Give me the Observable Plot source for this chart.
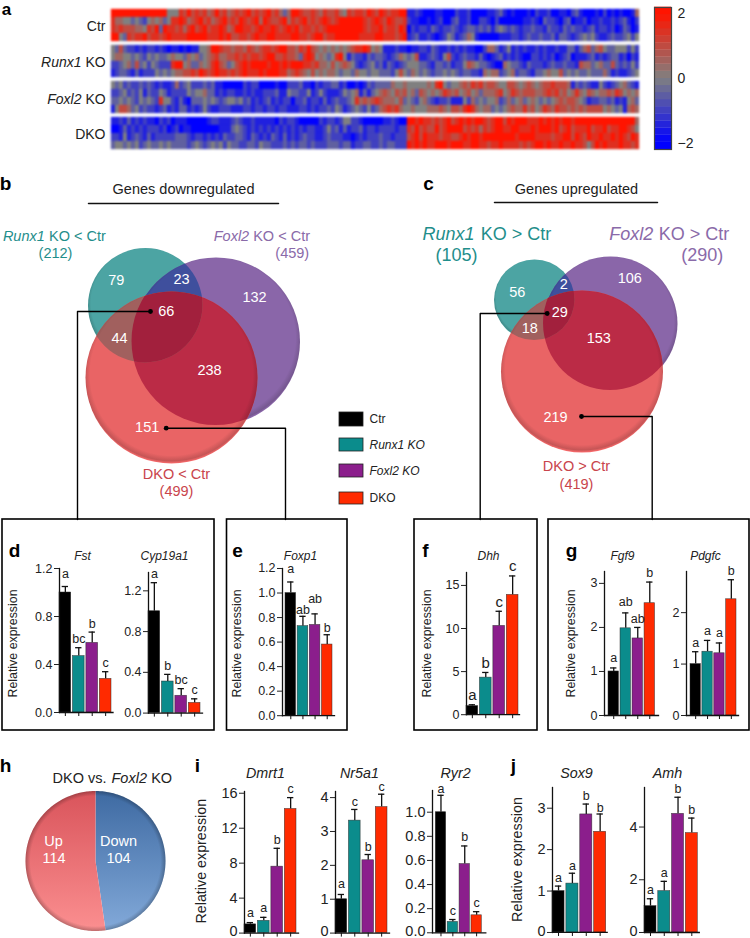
<!DOCTYPE html>
<html>
<head>
<meta charset="utf-8">
<script src="https://cdn.jsdelivr.net/npm/d3@7"></script>
<script src="https://cdn.jsdelivr.net/npm/@observablehq/plot@0.6"></script>
<style>
html,body{margin:0;padding:0;background:#fff;}
#fig{position:relative;width:750px;height:938px;overflow:hidden;background:#fff;font-family:"Liberation Sans",Arial,sans-serif;}
</style>
</head>
<body>
<div id="fig"></div>
<script>
// ---------- DATA ----------
const genotypes = ["Ctr", "Runx1 KO", "Foxl2 KO", "DKO"];
const genotypeColors = ["#000000", "#0b8c8c", "#8b1e8c", "#ff2a00"];

// heat map read by eye: one code per gene, 0 = -2 ... 4 = 0 ... 8 = +2
const heatCtr = [
 "88888888888 88844476867 67568675676 78676786753 58876676576 67547677687 68767788112 10001100021 12000011231 01000102112 00110231000 10201010015",
 "75544343245 45347787567 86756786768 76785876678 57678676787 67888888767 87687667211 00101200231 12002210200 00001121032 21023011201 12112123102",
 "76766655476 83877675786 78677875688 77678778767 87867767678 88888888767 78677687021 22132122321 23323231343 23212232213 22132322123 12212013201",
 "88437677867 76787777888 88777878667 76787788777 78877678867 78888887777 88777678123 11210124312 35410000011 12212322322 31332123434 21123223424"];
const heatRunx = [
 "43632212122 12101101011 44588766566 57656776788 66576865454 54545677874 54111211011 22132112121 21100255312 41212112121 12113313563 56433444242",
 "45544343243 43345443545 34567556676 76776788667 66537874543 47841322132 33212354346 11232146212 32213101231 21210022121 20123011123 12123312021",
 "22345363424 32227884533 54578653467 87888878878 78887767554 64565421234 23132123444 33213323122 46543321005 43321322212 32232216553 45336323242",
 "12332131222 43434556676 87678776767 87778788877 56765464545 54344354434 43332464354 34323343432 33221545523 45233213345 44634343343 33531211234"];
const heatFoxl = [
 "43423223232 12112523422 23231100000 21220000100 22231102122 33120010132 33335445444 44547843445 65767566544 66545654566 76665132321 14212345321",
 "22342324132 24312222434 45331212211 21211222311 43322412421 11243451313 45654656453 65454576564 56453555674 57656665567 67564575465 45565764545",
 "33434324343 27442131033 34343234434 23121231212 20223122131 23223475656 76555463432 45321223111 42534344523 53453454343 45656654312 23323121453",
 "14665342322 12312133121 24211222111 22122122122 11122121223 24312343242 35676754454 44555654665 78754553434 56557564576 57665656566 66454341565"];
const heatDko = [
 "11213121211 02120111000 00122111232 11211111021 22100000212 21244221000 00112100887 87767678678 78788767886 87888777878 78788788888 88888888885",
 "00131212122 21201201100 00000111343 21212121212 12121221124 23131223122 12222122768 67668678888 67675767887 78877787888 78678677786 77867788764",
 "22141232131 22222333212 21212132233 21321213213 12123221123 22211012122 23221222678 68777677667 87887888888 88788887777 67788687687 78778787687",
 "34434342343 34343333234 32343424332 23324332223 23233232223 33233122332 23233222878 78778887888 77887767787 77767678878 77877877646 87877787767"];
const heatGroups = ["Ctr", "Runx1 KO", "Foxl2 KO", "DKO"];
const heatTicks = [-2, 0, 2];

const fstValues = [1.0, 0.47, 0.58, 0.28],   fstErrs = [0.05, 0.07, 0.09, 0.06],  fstLetters = ["a","bc","b","c"];
const cypValues = [1.0, 0.31, 0.17, 0.10],   cypErrs = [0.28, 0.07, 0.07, 0.04],  cypLetters = ["a","b","bc","c"];
const foxp1Values = [1.0, 0.73, 0.74, 0.58], foxp1Errs = [0.09, 0.08, 0.09, 0.08], foxp1Letters = ["a","ab","ab","b"];
const dhhValues = [1.0, 4.3, 10.3, 13.9],    dhhErrs = [0.15, 0.6, 1.7, 2.2],     dhhLetters = ["a","b","c","c"];
const fgf9Values = [1.0, 1.98, 1.75, 2.55],  fgf9Errs = [0.08, 0.35, 0.25, 0.48], fgf9Letters = ["a","ab","ab","b"];
const pdgfcValues = [1.0, 1.24, 1.21, 2.26], pdgfcErrs = [0.24, 0.22, 0.2, 0.38], pdgfcLetters = ["a","a","a","b"];
const dmrt1Values = [1.0, 1.4, 7.6, 14.2],   dmrt1Errs = [0.2, 0.4, 2.1, 1.3],    dmrt1Letters = ["a","a","b","c"];
const nr5a1Values = [1.0, 3.32, 2.15, 3.72], nr5a1Errs = [0.14, 0.33, 0.17, 0.38], nr5a1Letters = ["a","c","b","c"];
const ryr2Values = [1.0, 0.09, 0.57, 0.145], ryr2Errs = [0.14, 0.02, 0.15, 0.03], ryr2Letters = ["a","c","b","c"];
const sox9Values = [1.0, 1.18, 2.85, 2.43],  sox9Errs = [0.12, 0.25, 0.25, 0.43], sox9Letters = ["a","a","b","b"];
const amhValues = [1.0, 1.57, 4.5, 3.77],    amhErrs = [0.28, 0.37, 0.63, 0.57],  amhLetters = ["a","a","b","b"];

const vennDownCounts = ["79","23","132","66","44","238","151"];
const vennUpCounts = ["56","2","106","29","18","153","219"];
const pieLabels = ["Down","Up"];
const pieCounts = [104,114];

// ---------- LAYOUT ----------
const FONT = '"Liberation Sans", Arial, sans-serif';
const fig = document.getElementById("fig");
function place(svg, left, top) {
  svg.style.position = "absolute"; svg.style.left = left + "px"; svg.style.top = top + "px";
  svg.style.maxWidth = "none"; svg.style.background = "transparent"; svg.style.overflow = "visible";
  fig.appendChild(svg); return svg;
}

// heat map
const heatData = [];
[heatCtr, heatRunx, heatFoxl, heatDko].forEach((rows, g) => rows.forEach((s, r) => {
  [...s.replace(/ /g, "")].forEach((ch, c) => heatData.push({group: heatGroups[g], row: r, col: c, value: (+ch - 4) / 2}));
}));
const heatColor = {type: "linear", domain: [-2, 0, 2], range: ["#0000ff", "#808080", "#ff1400"], clamp: true};
const heat = Plot.plot({
  width: 528, height: 142.5, margin: 0,
  x: {type: "band", axis: null, domain: d3.range(132), round: false, padding: 0},
  y: {type: "band", axis: null, domain: [0, 1, 2, 3], padding: 0},
  fy: {domain: heatGroups, axis: null, padding: 0.085},
  color: heatColor,
  marks: [Plot.cell(heatData, {x: "col", y: "row", fy: "group", fill: "value", inset: -0.15})]
});
place(heat, 111, 7); heat.style.filter = "blur(0.8px)";

// colour bar
const barLevels = d3.range(-2.2, 2.2, 0.22);
const cbar = Plot.plot({
  width: 50, height: 142, marginLeft: 0, marginRight: 33, marginTop: 0, marginBottom: 0,
  x: {axis: null, domain: [0, 1]},
  y: {domain: [-2.2, 2.2]},
  color: heatColor,
  marks: [
    Plot.rect(barLevels, {x1: 0, x2: 1, y1: d => d, y2: d => d + 0.23, fill: d => d + 0.11}),
    Plot.frame({stroke: "#444", strokeWidth: 1.2}),
    Plot.axisY({anchor: "right", ticks: heatTicks, tickSize: 0, tickPadding: 6, fontSize: 14, label: null, tickFormat: d3.format("d"), color: "#222"})
  ]
});
place(cbar, 654, 7); cbar.style.fontFamily = FONT;

// bar panels
function barPanel(p) {
  const ml = 42, mr = 3, mt = 24, mb = 8;
  const w = p.right - p.axisX + ml + mr, h = p.bottom - p.top + mt + mb;
  const rows = genotypes.map((g, i) => ({g, v: p.values[i], e: p.errs[i], l: p.letters[i], lift: (p.lift || [])[i] || 0}));
  const band = (p.barR - p.barL) / (4 + 3 * 0.13);
  const capInset = Math.max(0, (band - 6.5) / 2);
  const chart = Plot.plot({
    width: w, height: h, marginLeft: ml, marginRight: mr, marginTop: mt, marginBottom: mb,
    x: {type: "band", domain: genotypes, range: [ml + p.barL - p.axisX, ml + p.barR - p.axisX], paddingInner: 0.13, paddingOuter: 0, round: false},
    y: {domain: [0, p.yMax]},
    color: {domain: genotypes, range: genotypeColors},
    marks: [
      Plot.ruleX(rows, {x: "g", y1: "v", y2: d => d.v + d.e, stroke: "#111", strokeWidth: 1.3}),
      Plot.tickY(rows, {x: "g", y: d => d.v + d.e, stroke: "#111", strokeWidth: 1.3, insetLeft: capInset, insetRight: capInset}),
      Plot.barY(rows, {x: "g", y: "v", fill: "g", stroke: "#2a2a2a", strokeWidth: 0.6, strokeOpacity: 0.8}),
      Plot.frame({anchor: "left", stroke: "#111", strokeWidth: 1.3}),
      Plot.frame({anchor: "bottom", stroke: "#111", strokeWidth: 1.3}),
      Plot.axisY({ticks: p.ticks, tickFormat: () => "", tickSize: 5, label: null, color: "#222"}),
      Plot.text(p.ticks, {y: d => d, frameAnchor: "left", text: d => p.fmt(d), textAnchor: "end", dx: -7, fontSize: p.fs, fill: "#222",
        render(i, s, v, d, c, next) { const g = next(i, s, v, d, c);
          g.querySelectorAll("text").forEach((t, k) => { if (p.ticks[k] === 0 && p.zeroDy) t.setAttribute("dy", p.zeroDy); });
          return g; }}),
      Plot.axisX({tickSize: 4, tickFormat: null, label: null, color: "#111"}),
      Plot.text(rows, {x: "g", y: d => d.v + d.e, text: "l", lineAnchor: "bottom", fontSize: p.ls, fill: "#222",
        render(i, s, v, d, c, next) { const g = next(i, s, v, d, c);
          g.querySelectorAll("text").forEach((t, k) => {t.setAttribute("dy", -(4.5 + rows[k].lift));});
          return g; }})
    ]
  });
  place(chart, p.axisX - ml, p.top - mt); chart.style.fontFamily = FONT;
}
const f2 = d3.format(".1f"), f0 = d3.format("d");
const panels = [
 {values: fstValues, errs: fstErrs, letters: fstLetters, axisX: 58.5, right: 112, barL: 58.5, barR: 110.5, top: 568.3, bottom: 712.3, yMax: 1.2, ticks: [0,0.4,0.8,1.2], fmt: f2, fs: 12.5, ls: 12.5, lift: [4,0,0,0]},
 {values: cypValues, errs: cypErrs, letters: cypLetters, axisX: 148, right: 202, barL: 148, barR: 200, top: 571.7, bottom: 712.3, yMax: 1.38, ticks: [0,0.4,0.8,1.2], fmt: f2, fs: 12.5, ls: 12.5},
 {values: foxp1Values, errs: foxp1Errs, letters: foxp1Letters, axisX: 282, right: 334, barL: 285, barR: 332, top: 568.3, bottom: 715.5, yMax: 1.2, ticks: [0,0.2,0.4,0.6,0.8,1.0,1.2], fmt: f2, fs: 12.5, ls: 12.5, lift: [5,-2.5,6,-2]},
 {values: dhhValues, errs: dhhErrs, letters: dhhLetters, axisX: 466, right: 519, barL: 466, barR: 518, top: 572.3, bottom: 714.5, yMax: 16.5, ticks: [0,5,10,15], fmt: f0, fs: 12.5, ls: 15},
 {values: fgf9Values, errs: fgf9Errs, letters: fgf9Letters, axisX: 604, right: 658, barL: 608, barR: 654.5, top: 571, bottom: 715, yMax: 3.27, ticks: [0,1,2,3], fmt: f0, fs: 12.5, ls: 12.5, lift: [1,2,0,1]},
 {values: pdgfcValues, errs: pdgfcErrs, letters: pdgfcLetters, axisX: 686, right: 738, barL: 690, barR: 736, top: 571, bottom: 715, yMax: 2.8, ticks: [0,1,2], fmt: f0, fs: 12.5, ls: 12.5, lift: [0,1,1,0]},
 {values: dmrt1Values, errs: dmrt1Errs, letters: dmrt1Letters, axisX: 244, right: 298, barL: 244, barR: 296, top: 790.7, bottom: 932.3, yMax: 16.2, ticks: [0,4,8,12,16], fmt: f0, fs: 14.5, ls: 12.5, zeroDy: -1.5, lift: [1,1,0,0]},
 {values: nr5a1Values, errs: nr5a1Errs, letters: nr5a1Letters, axisX: 335, right: 389, barL: 335, barR: 387, top: 790.7, bottom: 932.3, yMax: 4.18, ticks: [0,1,2,3,4], fmt: f0, fs: 14.5, ls: 12.5, zeroDy: -1.5, lift: [2,-1.5,-1,-1]},
 {values: ryr2Values, errs: ryr2Errs, letters: ryr2Letters, axisX: 431.7, right: 485, barL: 435, barR: 481, top: 790, bottom: 932.3, yMax: 1.18, ticks: [0,0.2,0.4,0.6,0.8,1.0], fmt: f2, fs: 14.5, ls: 12.5, zeroDy: -1.5, lift: [-2.5,0,0,0]},
 {values: sox9Values, errs: sox9Errs, letters: sox9Letters, axisX: 552.3, right: 607, barL: 552.3, barR: 606, top: 787.3, bottom: 932.3, yMax: 3.5, ticks: [0,1,2,3], fmt: f0, fs: 14.5, ls: 12.5, zeroDy: -1.5, lift: [0,-1,0,-2.5]},
 {values: amhValues, errs: amhErrs, letters: amhLetters, axisX: 643.7, right: 698.5, barL: 643.7, barR: 697, top: 787.3, bottom: 932.3, yMax: 5.5, ticks: [0,2,4], fmt: f0, fs: 14.5, ls: 12.5, zeroDy: -1.5}
];

// venn geometry and tints
const vennColors = {teal: "#4ca4a3", purple: "#8a66a9", red: "#e96465", tp: "#3f4f9d", rp: "#bb2b46", rt: "#a1605e", rtp: "#a2203d"};
const vennB = {teal: {cx: 145, cy: 305, r: 57.5}, purple: {cx: 215.5, cy: 341, r: 84}, red: {cx: 171, cy: 377, r: 86}};
const vennC = {teal: {cx: 534, cy: 299.5, r: 40.5}, purple: {cx: 610, cy: 323, r: 67}, red: {cx: 581.5, cy: 371, r: 81}};
const countAtB = [[115.7,280],[181,279],[254,296.7],[165.7,310.7],[119,337.7],[209,370],[146.7,426.7]];
const countAtC = [[516.7,292.3],[563.3,283.7],[629.3,278.3],[559.3,311.7],[529.3,328.3],[598.3,337.7],[555,416.7]];

function radial(defs, id, c) {
  const g = defs.append("radialGradient").attr("id", id).attr("cx", "50%").attr("cy", "48%").attr("r", "52%");
  const dark = d3.color(c).darker(0.45).formatHex(), light = d3.color(c).brighter(0.25).formatHex();
  g.append("stop").attr("offset", "0%").attr("stop-color", c);
  g.append("stop").attr("offset", "91%").attr("stop-color", c);
  g.append("stop").attr("offset", "97%").attr("stop-color", dark);
  g.append("stop").attr("offset", "100%").attr("stop-color", light);
}
function linear(defs, id, c0, c1) {
  const g = defs.append("linearGradient").attr("id", id).attr("x1", 0).attr("y1", 0).attr("x2", 0).attr("y2", 1);
  g.append("stop").attr("offset", "0%").attr("stop-color", c0);
  g.append("stop").attr("offset", "100%").attr("stop-color", c1);
}
const defsMark = (i, {x, y}) => {
  const defs = d3.create("svg:defs");
  Object.entries(vennColors).forEach(([k, c]) => radial(defs, "v-" + k, c));
  linear(defs, "pie-up", "#d9545b", "#fb8f90");
  linear(defs, "pie-down", "#3e6aa2", "#82a9d9");
  const rim = defs.append("radialGradient").attr("id", "pie-rim").attr("cx", "50%").attr("cy", "50%").attr("r", "50%");
  rim.append("stop").attr("offset", "93%").attr("stop-color", "#000").attr("stop-opacity", 0);
  rim.append("stop").attr("offset", "100%").attr("stop-color", "#000").attr("stop-opacity", 0.25);
  [["b", vennB], ["c", vennC]].forEach(([n, v]) => ["teal", "purple", "red"].forEach(k => {
    defs.append("clipPath").attr("id", `clip-${n}-${k}`).append("circle").attr("cx", x(v[k].cx)).attr("cy", y(v[k].cy)).attr("r", v[k].r);
  }));
  return defs.node();
};
function clipped(ids) {
  return (i, s, v, d, c, next) => {
    let node = next(i, s, v, d, c);
    ids.forEach(id => {
      const w = document.createElementNS("http://www.w3.org/2000/svg", "g");
      w.setAttribute("clip-path", `url(#${id})`); w.appendChild(node); node = w;
    });
    return node;
  };
}
function vennMarks(n, v) {
  const dot = (k, tint, clips) => Plot.dot([v[k]], {x: "cx", y: "cy", r: v[k].r, fill: `url(#v-${tint})`, stroke: "none",
    ...(clips ? {render: clipped(clips.map(c => `clip-${n}-${c}`))} : {})});
  return [
    dot("teal", "teal"), dot("purple", "purple"), dot("red", "red"),
    dot("purple", "tp", ["teal"]), dot("red", "rp", ["purple"]), dot("red", "rt", ["teal"]),
    dot("red", "rtp", ["teal", "purple"])
  ];
}

// pie wedges, built from the counts
const pieGeom = {cx: 95, cy: 860.5, r: 70};
const pieArcs = d3.pie().sort(null).startAngle(0).endAngle(2 * Math.PI)(pieCounts);
const wedge = a => [[pieGeom.cx, pieGeom.cy], ...d3.range(a.startAngle, a.endAngle, 0.02).concat(a.endAngle)
  .map(t => [pieGeom.cx + pieGeom.r * Math.sin(t), pieGeom.cy - pieGeom.r * Math.cos(t)]), [pieGeom.cx, pieGeom.cy]];

// lines, frames, legend
const boxes = [[2,519,214,730],[226.5,519,347,730],[414,519,537,730],[548,519,749,730]];
const connectors = [
  [[150,311],[77,311],[77,519]],
  [[165.7,427.7],[285,427.7],[285,519]],
  [[546.7,313],[479.7,313],[479.7,519]],
  [[581,416],[651.7,416],[651.7,519]]
];
const headerRules = [[[88,203],[278,203]],[[494,202],[657,202]]];
const legendBoxes = [[339,412,363,426],[339,438,363,451],[339,464,363,477],[339,492,363,504]];

const TEAL = "#1f8e8b", PUR = "#8a6aa9", RED = "#c9444c", INK = "#222";
const T = (x, y, t, s, o = {}) => ({x, y, t, s, c: INK, a: "middle", ...o});
const labels = [
  // panel letters
  ...[["a",6,9],["b",5,183],["c",428,183],["d",14,550],["e",237,550],["f",425,550],["g",571,550],["h",5,765],["i",197,765],["j",513,765]]
    .map(([t,x,y]) => T(x, y, t, t === "a" ? 17 : 19, {b: 1, c: "#000"})),
  // heat map row labels
  T(105,26,"Ctr",14,{a:"end"}), T(81,62,"Runx1",14,{a:"end",i:1}), T(85,62,"KO",14,{a:"start"}),
  T(81,98.7,"Foxl2",14,{a:"end",i:1}), T(85,98.7,"KO",14,{a:"start"}), T(105,133.7,"DKO",14,{a:"end"}),
  // venn headers
  T(183,189,"Genes downregulated",14.5), T(576,189,"Genes upregulated",14.5),
  T(44.3,235.7,"Runx1",14.5,{a:"end",i:1,c:TEAL}), T(48.5,235.7,"KO < Ctr",14.5,{a:"start",c:TEAL}), T(55,253,"(212)",14.5,{c:TEAL}),
  T(248.7,235.7,"Foxl2",14.5,{a:"end",i:1,c:PUR}), T(252.7,235.7,"KO < Ctr",14.5,{a:"start",c:PUR}), T(308.7,253,"(459)",14.5,{a:"end",c:PUR}),
  T(176,474.3,"DKO < Ctr",14.5,{c:RED}), T(176,491,"(499)",14.5,{c:RED}),
  T(474,234,"Runx1",18,{a:"end",i:1,c:TEAL}), T(480.3,234,"KO > Ctr",18,{a:"start",c:TEAL}), T(456,255,"(105)",18,{c:TEAL}),
  T(652.7,234,"Foxl2",18,{a:"end",i:1,c:PUR}), T(658.3,234,"KO > Ctr",18,{a:"start",c:PUR}), T(701.7,255,"(290)",18,{c:PUR}),
  T(576,466,"DKO > Ctr",14.5,{c:RED}), T(576,484,"(419)",14.5,{c:RED}),
  ...vennDownCounts.map((t, i) => T(countAtB[i][0], countAtB[i][1], t, 14.5, {c: "#fff"})),
  ...vennUpCounts.map((t, i) => T(countAtC[i][0], countAtC[i][1], t, 14.5, {c: "#fff"})),
  // central legend
  T(369,419,genotypes[0],12,{a:"start"}), T(369,445,genotypes[1],12,{a:"start",i:1}), T(369,470.6,genotypes[2],12,{a:"start",i:1}), T(369,498,genotypes[3],12,{a:"start"}),
  // gene titles
  ...[["Fst",82,556],["Cyp19a1",164,556],["Foxp1",300,556],["Dhh",488,556],["Fgf9",622,556],["Pdgfc",705,556]].map(([t,x,y]) => T(x,y,t,12,{i:1})),
  ...[["Dmrt1",265,772.7],["Nr5a1",359,772.7],["Ryr2",455,772.7],["Sox9",576,772.7],["Amh",667,772.7]].map(([t,x,y]) => T(x,y,t,14.3,{i:1})),
  // y titles
  ...[[13,643],[237,643],[427,643],[571,643]].map(([x,y]) => T(x,y,"Relative expression",12.4,{r:-90})),
  ...[[201,860.7],[516.7,859]].map(([x,y]) => T(x,y,"Relative expression",14.3,{r:-90})),
  // pie
  T(106,778.3,"DKO vs.",14.5,{a:"end"}), T(111,778.3,"Foxl2",14.5,{a:"start",i:1}), T(150.7,778.3,"KO",14.5,{a:"start"}),
  T(53,841,pieLabels[1],14.5,{c:"#fff"}), T(53.5,858,String(pieCounts[1]),14.5,{c:"#fff"}),
  T(118,841,pieLabels[0],14.5,{c:"#fff"}), T(118,858,String(pieCounts[0]),14.5,{c:"#fff"})
];

const master = Plot.plot({
  width: 750, height: 938, margin: 0,
  x: {domain: [0, 750], range: [0, 750], axis: null},
  y: {domain: [0, 938], range: [0, 938], axis: null},
  marks: [
    defsMark,
    ...vennMarks("b", vennB),
    ...vennMarks("c", vennC),
    ...pieArcs.map((a, k) => Plot.line(wedge(a), {x: d => d[0], y: d => d[1], fill: k === 0 ? "url(#pie-down)" : "url(#pie-up)", stroke: "none", curve: "linear"})),
    Plot.dot([pieGeom], {x: "cx", y: "cy", r: pieGeom.r, fill: "url(#pie-rim)", stroke: "none"}),
    ...headerRules.map(l => Plot.line(l, {x: d => d[0], y: d => d[1], stroke: "#111", strokeWidth: 1.5})),
    ...connectors.map(l => Plot.line(l, {x: d => d[0], y: d => d[1], stroke: "#000", strokeWidth: 1.4, curve: "linear"})),
    Plot.dot(connectors.map(l => l[0]), {x: d => d[0], y: d => d[1], r: 2.4, fill: "#000", stroke: "none"}),
    Plot.rect(boxes, {x1: d => d[0], y1: d => d[1], x2: d => d[2], y2: d => d[3], fill: "none", stroke: "#000", strokeWidth: 1.6}),
    Plot.rect(legendBoxes, {x1: d => d[0], y1: d => d[1], x2: d => d[2], y2: d => d[3], fill: (d, i) => genotypeColors[i], stroke: "#222", strokeWidth: 0.8}),
    ...labels.map(r => Plot.text([r], {x: "x", y: "y", text: "t", fontSize: r.s, fill: r.c, textAnchor: r.a,
      fontStyle: r.i ? "italic" : "normal", fontWeight: r.b ? "bold" : "normal", rotate: r.r || 0, lineAnchor: "middle"}))
  ]
});
place(master, 0, 0); master.style.fontFamily = FONT;
panels.forEach(barPanel);
</script>
</body>
</html>
